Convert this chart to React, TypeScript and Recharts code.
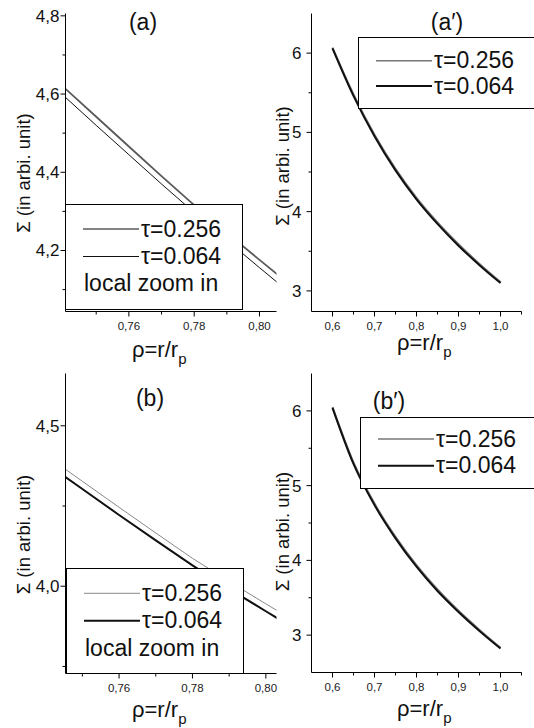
import { Legend, Line, LineChart, XAxis, YAxis } from "recharts";

const FONT = "'Liberation Sans', Arial, Helvetica, sans-serif";
const W = 534;
const H = 728;

// Σ(ρ), two τ values per panel
const rhoZoom = [0.74, 0.75, 0.76, 0.77, 0.78, 0.79, 0.8, 0.81];
const zoomA256 = [4.618, 4.542, 4.466, 4.39, 4.316, 4.245, 4.176, 4.108];
const zoomA064 = [4.596, 4.52, 4.445, 4.37, 4.297, 4.226, 4.156, 4.087];
const zoomB256 = [4.408, 4.327, 4.246, 4.166, 4.087, 4.015, 3.945, 3.877];
const zoomB064 = [4.384, 4.303, 4.222, 4.143, 4.065, 3.992, 3.922, 3.853];

const rhoFull = [0.6, 0.65, 0.7, 0.75, 0.8, 0.85, 0.9, 0.95, 1.0];
const fullA256 = [6.07, 5.48, 4.97, 4.54, 4.175, 3.865, 3.59, 3.34, 3.11];
const fullA064 = [6.06, 5.46, 4.95, 4.52, 4.155, 3.845, 3.57, 3.325, 3.1];
const fullB256 = [6.05, 5.31, 4.76, 4.315, 3.935, 3.61, 3.325, 3.07, 2.83];
const fullB064 = [6.04, 5.29, 4.74, 4.295, 3.915, 3.59, 3.31, 3.055, 2.82];

const seriesNames = ["τ=0.256", "τ=0.064"];

const zoomXTicks = [0.75, 0.76, 0.77, 0.78, 0.79, 0.8];
const zoomXMajor = [0.76, 0.78, 0.8];
const fullXTicks = [0.6, 0.65, 0.7, 0.75, 0.8, 0.85, 0.9, 0.95, 1.0, 1.05];
const fullXMajor = [0.6, 0.7, 0.8, 0.9, 1.0];
const zoomAYTicks = [4.1, 4.2, 4.3, 4.4, 4.5, 4.6, 4.7, 4.8];
const zoomAYMajor = [4.2, 4.4, 4.6, 4.8];
const zoomBYTicks = [3.75, 4.0, 4.25, 4.5];
const zoomBYMajor = [4.0, 4.5];
const fullYTicks = [3, 3.5, 4, 4.5, 5, 5.5, 6];
const fullYMajor = [3, 4, 5, 6];

const toRows = (rho: number[], a: number[], b: number[]) =>
  rho.map((r, i) => ({ rho: r, s256: a[i], s064: b[i] }));

const isIn = (list: number[], v: number) => list.some((m) => Math.abs(m - v) < 1e-9);
const fmt = (v: number, d: number) => v.toFixed(d).replace(".", ",");

const panels = [
  {
    id: "a",
    title: "(a)", titleX: 143, titleY: 30,
    rows: toRows(rhoZoom, zoomA256, zoomA064),
    plot: { left: 65.5, top: 13.5, right: 276.5, bottom: 311.5 },
    xDomain: [0.7406, 0.8052], xTicks: zoomXTicks, xMajor: zoomXMajor, xDigits: 2,
    yDomain: [4.044, 4.806], yTicks: zoomAYTicks, yMajor: zoomAYMajor, yDigits: 1, yGap: 6,
    curve: "linear",
    s256: { stroke: "#5a5a5a", width: 1.8 }, s064: { stroke: "#111", width: 1 },
    leg256: 1.5, leg064: 1.2,
    legend: { left: 65, top: 204, width: 178, height: 106, rows: [25, 52.5], note: 86.5 },
    yLabelX: 30, yLabelY: 173, xLabelX: 132, xLabelY: 357,
  },
  {
    id: "a2",
    title: "(a′)", titleX: 447, titleY: 30,
    rows: toRows(rhoFull, fullA256, fullA064),
    plot: { left: 311.5, top: 13.5, right: 521.5, bottom: 311.5 },
    xDomain: [0.55, 1.05], xTicks: fullXTicks, xMajor: fullXMajor, xDigits: 1,
    yDomain: [2.74, 6.5], yTicks: fullYTicks, yMajor: fullYMajor, yDigits: 0, yGap: 10,
    curve: "monotone",
    s256: { stroke: "#777", width: 2 }, s064: { stroke: "#111", width: 2 },
    leg256: 1.5, leg064: 2,
    legend: { left: 358, top: 37, width: 182, height: 72, rows: [23.7, 49], note: 0 },
    yLabelX: 288.5, yLabelY: 166, xLabelX: 397, xLabelY: 350,
  },
  {
    id: "b",
    title: "(b)", titleX: 150, titleY: 406,
    rows: toRows(rhoZoom, zoomB256, zoomB064),
    plot: { left: 65.5, top: 373.5, right: 276.5, bottom: 673.5 },
    xDomain: [0.7454, 0.8029], xTicks: zoomXTicks, xMajor: zoomXMajor, xDigits: 2,
    yDomain: [3.728, 4.663], yTicks: zoomBYTicks, yMajor: zoomBYMajor, yDigits: 1, yGap: 6,
    curve: "linear",
    s256: { stroke: "#888", width: 1 }, s064: { stroke: "#111", width: 2 },
    leg256: 1, leg064: 2,
    legend: { left: 66, top: 568, width: 178, height: 106, rows: [25.3, 52.7], note: 87.7 },
    yLabelX: 29.5, yLabelY: 534.5, xLabelX: 132, xLabelY: 717,
  },
  {
    id: "b2",
    title: "(b′)", titleX: 389, titleY: 409,
    rows: toRows(rhoFull, fullB256, fullB064),
    plot: { left: 311.5, top: 373.5, right: 521.5, bottom: 672.5 },
    xDomain: [0.55, 1.05], xTicks: fullXTicks, xMajor: fullXMajor, xDigits: 1,
    yDomain: [2.5, 6.5], yTicks: fullYTicks, yMajor: fullYMajor, yDigits: 0, yGap: 10,
    curve: "monotone",
    s256: { stroke: "#777", width: 2 }, s064: { stroke: "#111", width: 2 },
    leg256: 1.5, leg064: 2,
    legend: { left: 360, top: 417, width: 182, height: 72, rows: [22, 48.7], note: 0 },
    yLabelX: 288.5, yLabelY: 531.5, xLabelX: 397, xLabelY: 716,
  },
];

type Panel = (typeof panels)[number];

function LegendBox({ p }: { p: Panel }) {
  const L = p.legend;
  const styles = [
    { stroke: p.s256.stroke, width: p.leg256 },
    { stroke: p.s064.stroke, width: p.leg064 },
  ];
  return (
    <svg width={L.width} height={L.height} style={{ display: "block" }}>
      <rect x={0.5} y={0.5} width={L.width - 1} height={L.height - 1} fill="#fff" stroke="#000" />
      {seriesNames.map((name, i) => (
        <g key={name}>
          <line x1={18} x2={74} y1={L.rows[i]} y2={L.rows[i]} stroke={styles[i].stroke} strokeWidth={styles[i].width} />
          <text x={76} y={L.rows[i] + 7.5} style={{ fontSize: 23, fontFamily: FONT }} fill="#111">{name}</text>
        </g>
      ))}
      {L.note > 0 && (
        <text x={19} y={L.note} style={{ fontSize: 23, fontFamily: FONT }} fill="#111">local zoom in</text>
      )}
    </svg>
  );
}

function PanelChart({ p }: { p: Panel }) {
  const xTick = (props: any) => {
    const { x, y, payload } = props;
    const major = isIn(p.xMajor, payload.value);
    return (
      <g>
        <line x1={x} x2={x} y1={y} y2={y + (major ? 5 : 3)} stroke="#000" />
        {major && (
          <text x={x} y={y + 18} textAnchor="middle" style={{ fontSize: 11.5, fontFamily: FONT }} fill="#222">
            {fmt(payload.value, p.xDigits)}
          </text>
        )}
      </g>
    );
  };
  const yTick = (props: any) => {
    const { x, y, payload } = props;
    const major = isIn(p.yMajor, payload.value);
    return (
      <g>
        <line x1={x} x2={x - (major ? 5 : 3)} y1={y} y2={y} stroke="#000" />
        {major && (
          <text x={x - p.yGap} y={y} dy="0.35em" textAnchor="end" style={{ fontSize: 17, fontFamily: FONT }} fill="#111">
            {fmt(payload.value, p.yDigits)}
          </text>
        )}
      </g>
    );
  };
  return (
    <div style={{ position: "absolute", left: 0, top: 0 }}>
      <LineChart
        width={W}
        height={H}
        data={p.rows}
        margin={{ top: p.plot.top, left: p.plot.left - 1, right: W - p.plot.right, bottom: H - p.plot.bottom - 1 }}
      >
        <XAxis
          type="number"
          dataKey="rho"
          domain={p.xDomain}
          ticks={p.xTicks}
          interval={0}
          allowDataOverflow
          height={1}
          tickSize={0}
          tickMargin={0}
          tickLine={false}
          axisLine={{ stroke: "#000" }}
          tick={xTick}
        />
        <YAxis
          type="number"
          domain={p.yDomain}
          ticks={p.yTicks}
          interval={0}
          allowDataOverflow
          width={1}
          tickSize={0}
          tickMargin={0}
          tickLine={false}
          axisLine={{ stroke: "#000" }}
          tick={yTick}
        />
        <Line name={seriesNames[0]} dataKey="s256" type={p.curve as any} stroke={p.s256.stroke} strokeWidth={p.s256.width} dot={false} activeDot={false} isAnimationActive={false} />
        <Line name={seriesNames[1]} dataKey="s064" type={p.curve as any} stroke={p.s064.stroke} strokeWidth={p.s064.width} dot={false} activeDot={false} isAnimationActive={false} />
        <Legend
          layout="horizontal"
          verticalAlign="middle"
          align="center"
          wrapperStyle={{ left: p.legend.left, top: p.legend.top, width: p.legend.width, height: p.legend.height }}
          content={() => <LegendBox p={p} />}
        />
      </LineChart>
    </div>
  );
}

function PanelText({ p }: { p: Panel }) {
  return (
    <g fill="#111">
      <text x={p.titleX} y={p.titleY} textAnchor="middle" style={{ fontSize: 23, fontFamily: FONT }}>{p.title}</text>
      <text
        x={p.yLabelX}
        y={p.yLabelY}
        transform={`rotate(-90 ${p.yLabelX} ${p.yLabelY})`}
        textAnchor="middle"
        style={{ fontSize: 18.5, fontFamily: FONT }}
      >
        Σ (in arbi. unit)
      </text>
      <text x={p.xLabelX} y={p.xLabelY} style={{ fontSize: 22, fontFamily: FONT }}>
        ρ=r/r<tspan dy={7} style={{ fontSize: 15 }}>p</tspan>
      </text>
    </g>
  );
}

export default function App() {
  return (
    <div style={{ position: "absolute", left: 0, top: 0, width: W, height: H, overflow: "hidden", background: "#fff" }}>
      {panels.map((p) => (
        <PanelChart key={p.id} p={p} />
      ))}
      <svg width={W} height={H} style={{ position: "absolute", left: 0, top: 0, pointerEvents: "none" }}>
        {panels.map((p) => (
          <PanelText key={p.id} p={p} />
        ))}
      </svg>
    </div>
  );
}
